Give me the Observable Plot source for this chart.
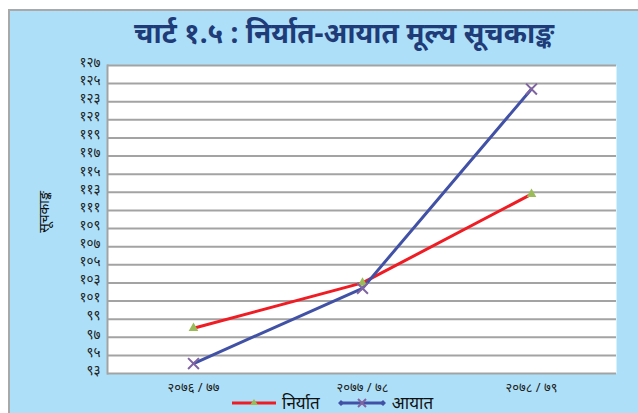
<!DOCTYPE html>
<html>
<head>
<meta charset="utf-8">
<script src="https://cdn.jsdelivr.net/npm/d3@7"></script>
<script src="https://cdn.jsdelivr.net/npm/@observablehq/plot@0.6"></script>
<style>
  html, body { margin: 0; padding: 0; background: #ffffff; }
  #wrap { position: relative; width: 638px; height: 413px; overflow: hidden; font-family: "Noto Sans", sans-serif; }
  #bg { position: absolute; left: 8px; top: 9px; width: 640px; height: 410px; background: #ade0f8; border: 2px solid #a9a9a9; box-sizing: border-box; }
  #chart { position: absolute; left: 0; top: 0; }
  #title { position: absolute; left: 0; width: 688px; top: 13px; text-align: center; font-size: 28px; font-weight: bold; color: #1f3c78; }
  #ylab { position: absolute; left: 43px; top: 212px; transform: translate(-50%, -50%) rotate(-90deg); font-size: 14px; color: #111; white-space: nowrap; }
  #legend { position: absolute; top: 391px; left: 232px; display: flex; align-items: center; font-size: 17px; color: #111; }
  #legend span { margin-left: 6px; margin-right: 18px; }
</style>
</head>
<body>
<div id="wrap">
  <div id="bg"></div>
  <div id="title">चार्ट १.५ : निर्यात-आयात मूल्य सूचकाङ्क</div>
  <div id="chart"></div>
  <div id="ylab">सूचकाङ्क</div>
  <div id="legend"></div>
</div>
<script>
const years = ["२०७६ / ७७", "२०७७ / ७८", "२०७८ / ७९"];
const exportIndex = [98.0, 103.0, 112.8];
const importIndex = [94.1, 102.4, 124.4];
const yTicks = [93, 95, 97, 99, 101, 103, 105, 107, 109, 111, 113, 115, 117, 119, 121, 123, 125, 127];
const seriesNames = ["निर्यात", "आयात"];

const dev = "०१२३४५६७८९";
const toDev = n => String(n).replace(/[0-9]/g, d => dev[+d]);

const exportData = years.map((y, i) => ({year: y, value: exportIndex[i]}));
const importData = years.map((y, i) => ({year: y, value: importIndex[i]}));

const red = "#ef1c24", green = "#9bbb59", blue = "#4152a6", purple = "#8064a2";

const chart = Plot.plot({
  width: 638,
  height: 413,
  marginLeft: 107,
  marginRight: 22,
  marginTop: 65,
  marginBottom: 40,
  style: {background: "transparent", fontFamily: "Noto Sans, sans-serif"},
  x: {type: "point", domain: years, padding: 0.5},
  y: {domain: [93, 127]},
  marks: [
    Plot.frame({fill: "white", stroke: null}),
    Plot.ruleY(yTicks, {stroke: "#a3a3a3", strokeWidth: 2}),
    Plot.frame({anchor: "left", stroke: "#a3a3a3", strokeWidth: 2}),
    Plot.axisY({ticks: yTicks, tickFormat: toDev, tickSize: 0, tickPadding: 7, fontSize: 13.5, dy: -3, label: null, color: "#222"}),
    Plot.axisX({tickSize: 0, tickPadding: 9, fontSize: 13, label: null, color: "#222"}),
    Plot.line(exportData, {x: "year", y: "value", stroke: red, strokeWidth: 3}),
    Plot.line(importData, {x: "year", y: "value", stroke: blue, strokeWidth: 3}),
    Plot.dot(exportData, {x: "year", y: "value", symbol: "triangle", fill: green, r: 3.6}),
    Plot.dot(importData, {x: "year", y: "value", symbol: "times", stroke: purple, strokeWidth: 2, r: 5})
  ]
});
document.getElementById("chart").appendChild(chart);

const legend = document.getElementById("legend");
legend.innerHTML =
  `<svg width="44" height="12"><line x1="0" y1="6" x2="44" y2="6" stroke="${red}" stroke-width="3"/><path d="M22,2 L26,8 L18,8 Z" fill="${green}"/></svg><span>${seriesNames[0]}</span>` +
  `<svg width="48" height="12"><line x1="3" y1="6" x2="45" y2="6" stroke="${blue}" stroke-width="3"/><path d="M0,6 L3,3 L6,6 L3,9 Z M42,6 L45,3 L48,6 L45,9 Z" fill="${blue}"/><path d="M20,2 L28,10 M28,2 L20,10" stroke="${purple}" stroke-width="2"/></svg><span>${seriesNames[1]}</span>`;
</script>
</body>
</html>
